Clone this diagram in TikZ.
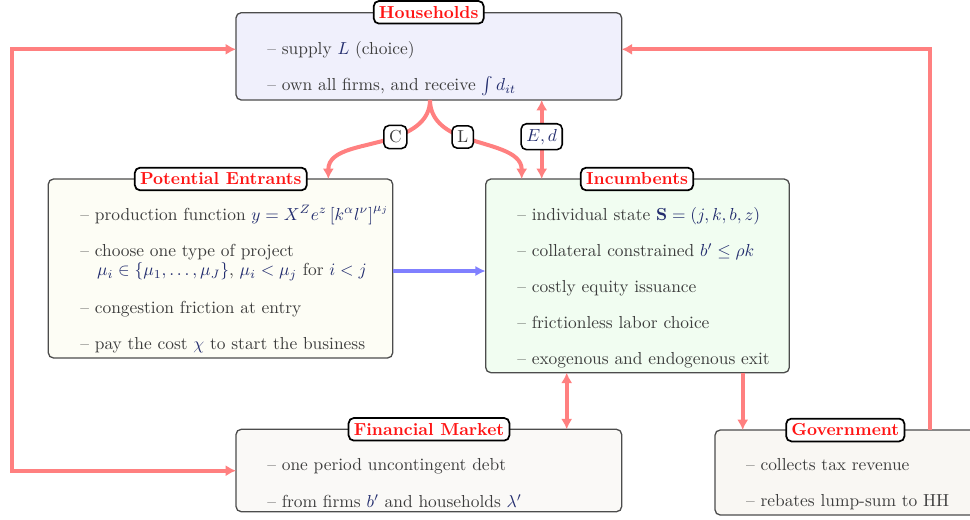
\documentclass[tikz,border=0pt]{standalone}
\usetikzlibrary{arrows.meta,fit}
\definecolor{arr}{RGB}{255,128,128}
\definecolor{barr}{RGB}{128,128,255}
\definecolor{mathc}{RGB}{35,45,110}
\definecolor{txt}{RGB}{60,60,60}
\definecolor{hhfill}{RGB}{240,240,252}
\definecolor{pefill}{RGB}{253,253,245}
\definecolor{incfill}{RGB}{241,253,241}
\definecolor{fmfill}{RGB}{250,249,247}
\definecolor{govfill}{RGB}{249,247,243}
\definecolor{ttlred}{RGB}{255,20,20}
\newcommand\mm[1]{\textcolor{mathc}{$#1$}}
\begin{document}
\begin{tikzpicture}[x=0.575pt,y=-0.575pt,
 box/.style={draw=black!70, line width=0.75pt, rounded corners=3pt, inner sep=0pt},
 ttl/.style={draw=black, fill=white, line width=1pt, rounded corners=3pt, inner xsep=3pt, inner ysep=3pt, text=ttlred, font=\bfseries},
 item/.style={anchor=base west, inner sep=0pt, text=txt},
 lab/.style={draw=black, fill=white, line width=0.9pt, rounded corners=3pt, inner sep=3pt, text=txt},
 flow/.style={draw=arr, line width=2.3pt, -{Latex[length=6pt,width=6.5pt]}},
 both/.style={draw=arr, line width=2.3pt, {Latex[length=6pt,width=6.5pt]}-{Latex[length=6pt,width=6.5pt]}},
 bflow/.style={draw=barr, line width=2pt, -{Latex[length=6pt,width=6pt]}},
]
\useasboundingbox (0,0) rectangle (970,519);

% boxes
\node[box, fill=hhfill,  fit={(236,12.7)(621.7,100)}] (hh) {};
\node[box, fill=pefill,  fit={(48.3,179)(392.7,358)}] (pe) {};
\node[box, fill=incfill, fit={(485.7,179)(789.3,372.7)}] (inc) {};
\node[box, fill=fmfill,  fit={(236,429.3)(621.7,511.7)}] (fm) {};
\node[box, fill=govfill, fit={(715,430)(976,515)}] (gov) {};

% items
\node[item] (hh1) at (267,54.3) {-- supply \mm{L} (choice)};
\node[item] (hh2) at (267,90.7) {-- own all firms, and receive \mm{\int d_{it}}};

\node[item] (pe1) at (80,220) {-- production function \mm{y = X^{Z} e^{z}\left[k^{\alpha} l^{\nu}\right]^{\mu_j}}};
\node[item] (pe2) at (80,256.7) {-- choose one type of project};
\node[item] (pe2b) at (96.7,275.7) {\mm{\mu_i \in \{\mu_1,\ldots,\mu_J\}}, \mm{\mu_i<\mu_j} for \mm{i<j}};
\node[item] (pe3) at (80,313.3) {-- congestion friction at entry};
\node[item] (pe4) at (80,349.3) {-- pay the cost \mm{\chi} to start the business};

\node[item] (inc1) at (517,220) {-- individual state \mm{\mathbf{S}=(j,k,b,z)}};
\node[item] (inc2) at (517,256.7) {-- collateral constrained \mm{b'\le \rho k}};
\node[item] (inc3) at (517,292.7) {-- costly equity issuance};
\node[item] (inc4) at (517,328.3) {-- frictionless labor choice};
\node[item] (inc5) at (517,364) {-- exogenous and endogenous exit};

\node[item] (fm1) at (267,470.7) {-- one period uncontingent debt};
\node[item] (fm2) at (267,507.3) {-- from firms \mm{b'} and households \mm{\lambda'}};

\node[item] (gov1) at (745.7,470) {-- collects tax revenue};
\node[item] (gov2) at (745.7,506.7) {-- rebates lump-sum to HH};

% titles
\node[ttl] (hht)  at (428.7,12.3) {Households};
\node[ttl] (pet)  at (220.8,179) {Potential Entrants};
\node[ttl] (inct) at (637,179) {Incumbents};
\node[ttl] (fmt)  at (429,429.3) {Financial Market};
\node[ttl] (govt) at (845.3,430) {Government};

% connector end points on the box borders
\coordinate (hhB)  at (430,100);
\coordinate (peT)  at (328.3,179);
\coordinate (incT) at (521.7,179);
\coordinate (cpos) at (395.3,137);
\coordinate (lpos) at (462.7,137);
\coordinate (hhE)  at (541.7,100);
\coordinate (incE) at (541.7,179);
\coordinate (hhL)  at (236,49.3);
\coordinate (fmL)  at (236,470.7);
\coordinate (hhR)  at (621.7,49.3);
\coordinate (govT) at (930,430);
\coordinate (incB1) at (566.7,372.7);
\coordinate (fmT)  at (566.7,429.3);
\coordinate (incB2) at (742.7,372.7);
\coordinate (govL) at (742.7,430);
\coordinate (peR)  at (392.7,271);
\coordinate (incL) at (485.7,271);

% connectors
\draw[flow] (hhB) to[out=-90,in=20] (cpos) to[out=200,in=90] (peT);
\draw[flow] (hhB) to[out=-90,in=160] (lpos) to[out=-20,in=90] (incT);
\draw[both] (hhE) -- (incE);
\draw[both] (hhL) -- (12,49.3) -- (12,470.7) -- (fmL);
\draw[flow] (govT) |- (hhR);
\draw[both] (incB1) -- (fmT);
\draw[flow] (incB2) -- (govL);
\draw[bflow] (peR) -- (incL);

% labels
\node[lab] (clab) at (cpos) {C};
\node[lab] (llab) at (lpos) {L};
\node[lab] (edlab) at (541.7,136.7) {\mm{E,d}};
\end{tikzpicture}
\end{document}
